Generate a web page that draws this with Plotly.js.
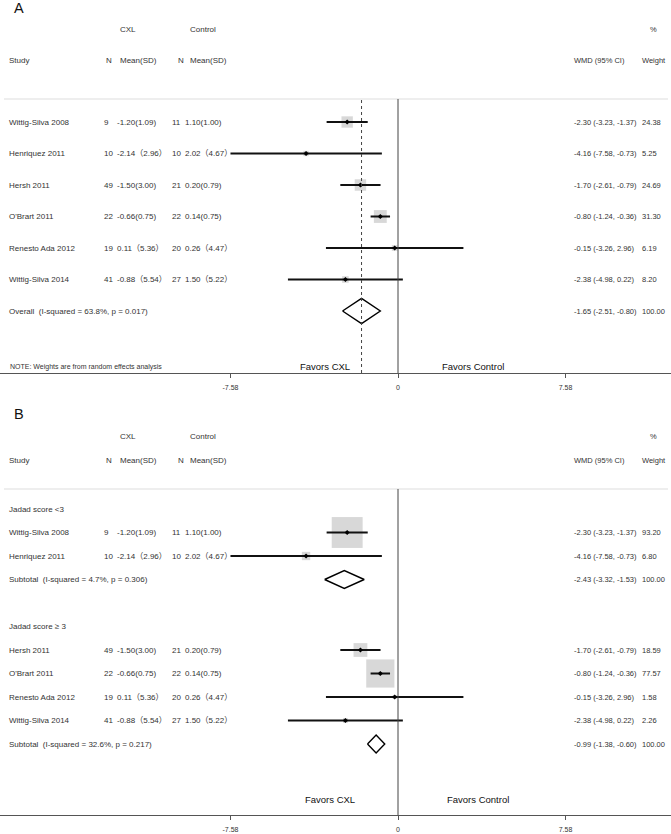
<!DOCTYPE html>
<html>
<head>
<meta charset="utf-8">
<script src="https://cdn.plot.ly/plotly-3.0.1.min.js"></script>
<style>html,body{margin:0;padding:0;background:#fff}#chart{width:671px;height:834px}</style>
</head>
<body>
<div id="chart"></div>
<script>
// ---------- data ----------
const studies = ["Wittig-Silva 2008", "Henriquez 2011", "Hersh 2011", "O'Brart 2011", "Renesto Ada 2012", "Wittig-Silva 2014"];
const nCXL = [9, 10, 49, 22, 19, 41];
const cxlMeanSD = ["-1.20(1.09)", "-2.14（2.96）", "-1.50(3.00)", "-0.66(0.75)", "0.11（5.36）", "-0.88（5.54）"];
const nCtrl = [11, 10, 21, 22, 20, 27];
const ctrlMeanSD = ["1.10(1.00)", "2.02（4.67）", "0.20(0.79)", "0.14(0.75)", "0.26（4.47）", "1.50（5.22）"];
const wmd = [-2.30, -4.16, -1.70, -0.80, -0.15, -2.38];
const ciLow = [-3.23, -7.58, -2.61, -1.24, -3.26, -4.98];
const ciHigh = [-1.37, -0.73, -0.79, -0.36, 2.96, 0.22];
const weightA = [24.38, 5.25, 24.69, 31.30, 6.19, 8.20];
const overallLabel = "Overall\u00a0\u00a0(I-squared = 63.8%, p = 0.017)";
const overallEst = [-1.65, -2.51, -0.80]; // estimate, low, high
const groupLabels = ["Jadad score <3", "Jadad score \u2265 3"];
const groupMembers = [[0, 1], [2, 3, 4, 5]];
const weightB = [93.20, 6.80, 18.59, 77.57, 1.58, 2.26];
const subLabels = ["Subtotal\u00a0\u00a0(I-squared = 4.7%, p = 0.306)", "Subtotal\u00a0\u00a0(I-squared = 32.6%, p = 0.217)"];
const subEst = [-2.43, -0.99];
const subLow = [-3.32, -1.38];
const subHigh = [-1.53, -0.60];
const tickVals = [-7.58, 0, 7.58];
const tickText = ["-7.58", "0", "7.58"];

// ---------- layout helpers ----------
const W = 671, H = 834;
const FONT = "Liberation Sans, Arial, Noto Sans CJK SC, sans-serif";
const TXT = "#333";
const FS = 8;
const FSR = 7.5;
const px = v => v / W, py = v => 1 - v / H;
const ZERO_PX = 398, PPU = 22.1;
const xRange = [-ZERO_PX / PPU, (W - ZERO_PX) / PPU];
const fmt = v => v.toFixed(2);

const annotations = [];
function addText(text, xPx, y, yref, opt) {
  opt = opt || {};
  annotations.push({
    text: text, xref: 'paper', x: px(xPx), yref: yref, y: y,
    xanchor: opt.anchor || 'left', yanchor: 'middle', showarrow: false,
    font: {family: FONT, size: opt.size || FS, color: opt.color || TXT}
  });
}
const col = {study: 7, n1: 102, m1: 115, n2: 170, m2: 183, ci: 572, w: 640};

function headers(letter, letterY, topY, hdrY) {
  addText(letter, 12, py(letterY), 'paper', {size: 14.5, color: '#111'});
  addText("CXL", 118, py(topY), 'paper');
  addText("Control", 188, py(topY), 'paper');
  addText("%", 648, py(topY), 'paper', {size: FSR});
  addText("Study", col.study, py(hdrY), 'paper');
  addText("N", 104, py(hdrY), 'paper');
  addText("Mean(SD)", 118, py(hdrY), 'paper');
  addText("N", 176, py(hdrY), 'paper');
  addText("Mean(SD)", 188, py(hdrY), 'paper');
  addText("WMD (95% CI)", col.ci, py(hdrY), 'paper', {size: FSR});
  addText("Weight", col.w, py(hdrY), 'paper', {size: FSR});
}
function studyRow(i, row, yref, w) {
  addText(studies[i], col.study, row, yref);
  addText(String(nCXL[i]), col.n1, row, yref);
  addText(cxlMeanSD[i], col.m1, row, yref);
  addText(String(nCtrl[i]), col.n2, row, yref);
  addText(ctrlMeanSD[i], col.m2, row, yref);
  addText(fmt(wmd[i]) + " (" + fmt(ciLow[i]) + ", " + fmt(ciHigh[i]) + ")", col.ci, row, yref, {size: FSR});
  addText(fmt(w), col.w, row, yref, {size: FSR});
}

const traces = [];
function studyTraces(idx, rows, weights, k, xa, ya) {
  traces.push({
    type: 'scatter', mode: 'markers', xaxis: xa, yaxis: ya,
    x: idx.map(i => wmd[i]), y: rows,
    marker: {symbol: 'square', size: idx.map(i => k * Math.sqrt(weights[i])), color: '#c8c8c8', line: {width: 0}},
    hoverinfo: 'skip', showlegend: false
  });
  traces.push({
    type: 'scatter', mode: 'markers', xaxis: xa, yaxis: ya,
    x: idx.map(i => wmd[i]), y: rows,
    marker: {symbol: 'diamond', size: 4, color: '#000'},
    error_x: {type: 'data', symmetric: false,
      array: idx.map(i => ciHigh[i] - wmd[i]), arrayminus: idx.map(i => wmd[i] - ciLow[i]),
      thickness: 2, width: 0, color: '#111'},
    hoverinfo: 'skip', showlegend: false
  });
}
function diamond(est, lo, hi, row, h, xa, ya) {
  traces.push({
    type: 'scatter', mode: 'lines', xaxis: xa, yaxis: ya,
    x: [lo, est, hi, est, lo], y: [row, row - h, row, row + h, row],
    line: {color: '#000', width: 1.4}, hoverinfo: 'skip', showlegend: false
  });
}

// ---------- Panel A ----------
const A = {top: 99, first: 122, step: 31.5, axis: 373};
headers("A", 8, 29, 60);
const rowsA = studies.map((s, i) => i);
rowsA.forEach(i => studyRow(i, i, 'y', weightA[i]));
const overallRow = studies.length;
addText(overallLabel, col.study, overallRow, 'y');
addText(fmt(overallEst[0]) + " (" + fmt(overallEst[1]) + ", " + fmt(overallEst[2]) + ")", col.ci, overallRow, 'y', {size: FSR});
addText("100.00", col.w, overallRow, 'y', {size: FSR});
addText("NOTE: Weights are from random effects analysis", 8, py(367), 'paper', {size: 7});
addText("Favors CXL", 325, py(367), 'paper', {size: 9.5, anchor: 'center', color: '#111'});
addText("Favors Control", 440, py(367), 'paper', {size: 9.5, color: '#111'});
studyTraces(rowsA, rowsA, weightA, 2.3, 'x', 'y');
diamond(overallEst[0], overallEst[1], overallEst[2], overallRow, 0.4, 'x', 'y');

// ---------- Panel B ----------
const B = {top: 489, first: 509, step: 23.5, axis: 815};
headers("B", 414, 437, 460);
let r = 0;
groupMembers.forEach((members, g) => {
  addText(groupLabels[g], col.study, r, 'y2');
  r++;
  const rows = [];
  members.forEach(i => { studyRow(i, r, 'y2', weightB[i]); rows.push(r); r++; });
  studyTraces(members, rows, weightB, 3.2, 'x2', 'y2');
  addText(subLabels[g], col.study, r, 'y2');
  addText(fmt(subEst[g]) + " (" + fmt(subLow[g]) + ", " + fmt(subHigh[g]) + ")", col.ci, r, 'y2', {size: FSR});
  addText("100.00", col.w, r, 'y2', {size: FSR});
  diamond(subEst[g], subLow[g], subHigh[g], r, 0.38, 'x2', 'y2');
  r += 2;
});
addText("Favors CXL", 330, py(799), 'paper', {size: 9.5, anchor: 'center', color: '#111'});
addText("Favors Control", 445, py(799), 'paper', {size: 9.5, color: '#111'});

// ---------- axes ----------
function xAxis(anchor) {
  return {domain: [0, 1], range: xRange, anchor: anchor, showline: true, linecolor: '#555', linewidth: 1,
    ticks: 'outside', ticklen: 4, tickcolor: '#555', tickvals: tickVals, ticktext: tickText,
    ticklabelstandoff: 4,
    tickfont: {family: FONT, size: 7, color: TXT}, showgrid: false, zeroline: false, fixedrange: true};
}
function yAxis(P) {
  return {domain: [py(P.axis), py(P.top)],
    range: [(P.axis - P.first) / P.step, (P.top - P.first) / P.step],
    visible: false, showgrid: false, zeroline: false, fixedrange: true};
}
const shapes = [];
[A, B].forEach(P => {
  shapes.push({type: 'line', xref: 'paper', yref: 'paper', x0: px(4), x1: px(668), y0: py(P.top), y1: py(P.top),
    line: {color: '#ddd', width: 1}});
});
shapes.push({type: 'line', xref: 'x', yref: 'paper', x0: 0, x1: 0, y0: py(A.axis), y1: py(A.top), line: {color: '#444', width: 1}});
shapes.push({type: 'line', xref: 'x2', yref: 'paper', x0: 0, x1: 0, y0: py(B.axis), y1: py(B.top), line: {color: '#444', width: 1}});
shapes.push({type: 'line', xref: 'x', yref: 'paper', x0: overallEst[0], x1: overallEst[0], y0: py(A.axis), y1: py(A.top),
  line: {color: '#444', width: 1, dash: '3px,3px'}});

const layout = {
  width: W, height: H, margin: {l: 0, r: 0, t: 0, b: 0},
  paper_bgcolor: '#fff', plot_bgcolor: 'rgba(0,0,0,0)', showlegend: false,
  xaxis: xAxis('y'), yaxis: yAxis(A),
  xaxis2: xAxis('y2'), yaxis2: yAxis(B),
  annotations: annotations, shapes: shapes
};
Plotly.newPlot('chart', traces, layout, {staticPlot: true});
</script>
</body>
</html>
